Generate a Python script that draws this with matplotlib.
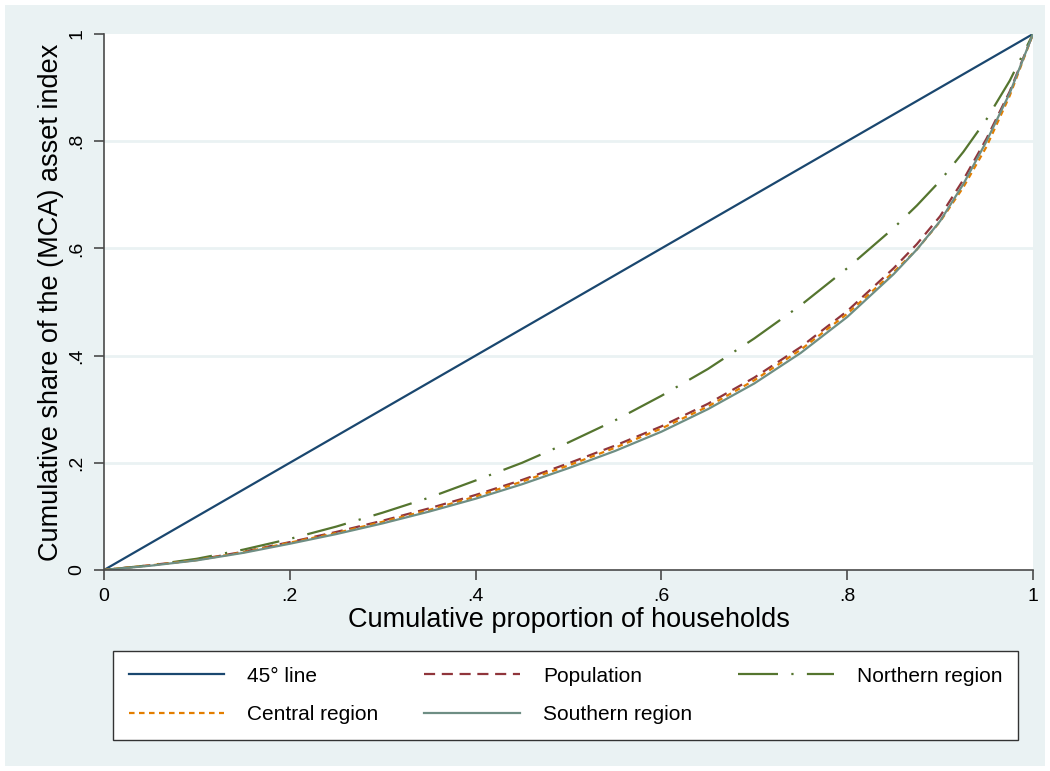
import matplotlib
matplotlib.use("Agg")
import matplotlib.pyplot as plt
from matplotlib.patches import Rectangle

plt.rcParams['font.family'] = ['Liberation Sans', 'DejaVu Sans']

# cumulative share (Lorenz curves of the MCA asset index)
share_x = [0.00, 0.05, 0.10, 0.15, 0.20, 0.25, 0.30, 0.35, 0.40, 0.45, 0.50,
           0.55, 0.60, 0.65, 0.70, 0.75, 0.80, 0.85, 0.875, 0.90, 0.925, 0.95, 0.975, 1.00]
line45 = list(share_x)
population = [0.000, 0.009, 0.019, 0.034, 0.052, 0.071, 0.092, 0.115, 0.140, 0.168, 0.199,
              0.232, 0.268, 0.310, 0.359, 0.416, 0.483, 0.563, 0.608, 0.660, 0.728, 0.805, 0.893, 1.000]
northern = [0.000, 0.009, 0.021, 0.038, 0.058, 0.081, 0.107, 0.135, 0.167, 0.200, 0.238,
            0.279, 0.325, 0.375, 0.432, 0.494, 0.563, 0.638, 0.680, 0.726, 0.780, 0.841, 0.913, 1.000]
central = [0.000, 0.0085, 0.0185, 0.033, 0.051, 0.069, 0.090, 0.112, 0.137, 0.165, 0.195,
           0.228, 0.264, 0.305, 0.354, 0.411, 0.478, 0.556, 0.598, 0.650, 0.714, 0.790, 0.885, 1.000]
southern = [0.000, 0.008, 0.018, 0.032, 0.049, 0.067, 0.087, 0.109, 0.133, 0.160, 0.190,
            0.222, 0.258, 0.300, 0.348, 0.405, 0.472, 0.552, 0.598, 0.651, 0.720, 0.800, 0.890, 1.000]

ticks = [0, 0.2, 0.4, 0.6, 0.8, 1]
tick_labels = ['0', '.2', '.4', '.6', '.8', '1']

W, H = 1050, 771
bg = '#eaf2f3'
fig = plt.figure(figsize=(W / 100, H / 100), dpi=100, facecolor='white')
fig.patches.append(Rectangle((5 / W, 5 / H), 1 - 10 / W, 1 - 10 / H,
                             transform=fig.transFigure, facecolor=bg,
                             edgecolor='none', zorder=-10))

ax = fig.add_axes([104 / W, 1 - 570 / H, (1033 - 104) / W, (570 - 34) / H])
ax.set_facecolor('white')

l1, = ax.plot(share_x, line45, color='#1a476f', lw=1.6, label='45° line')
l2, = ax.plot(share_x, population, color='#90353b', lw=1.6,
              linestyle=(0, (5, 3)), label='Population')
l3, = ax.plot(share_x, northern, color='#55752f', lw=1.6,
              linestyle=(0, (18, 6, 1, 6)), label='Northern region')
l4, = ax.plot(share_x, central, color='#e37e00', lw=1.6,
              linestyle=(0, (2.5, 2)), label='Central region')
l5, = ax.plot(share_x, southern, color='#6e8e84', lw=1.6, label='Southern region')

ax.set_xlim(0, 1)
ax.set_ylim(0, 1)
ax.set_xticks(ticks)
ax.set_xticklabels(tick_labels)
ax.set_yticks(ticks)
ax.set_yticklabels(tick_labels, rotation=90, va='center')
for y in ticks[1:-1]:
    ax.axhline(y, color=bg, lw=2, zorder=0)

for s in ['top', 'right']:
    ax.spines[s].set_visible(False)
for s in ['left', 'bottom']:
    ax.spines[s].set_color('#4a4a4a')
    ax.spines[s].set_linewidth(1.2)
ax.tick_params(direction='out', length=7.2, width=1.2, color='#4a4a4a',
               labelsize=14, pad=6)

ax.set_xlabel('Cumulative proportion of households', fontsize=19.5, labelpad=1)
ax.set_ylabel('Cumulative share of the (MCA) asset index', fontsize=19.5, labelpad=3)

leg = fig.legend([l1, l4, l2, l5, l3],
                 ['45° line', 'Central region', 'Population', 'Southern region', 'Northern region'],
                 loc='upper left', ncol=3, mode='expand', borderaxespad=0,
                 bbox_to_anchor=(113 / W, 1 - 737 / H, (1018 - 113) / W, (737 - 651) / H),
                 fontsize=15, handlelength=4.6, handletextpad=1.1,
                 borderpad=0.75, labelspacing=0.95, fancybox=False, framealpha=1)
leg.get_frame().set_edgecolor('#333333')
leg.get_frame().set_linewidth(1.0)

fig.savefig('out.png', dpi=100, facecolor='white')
